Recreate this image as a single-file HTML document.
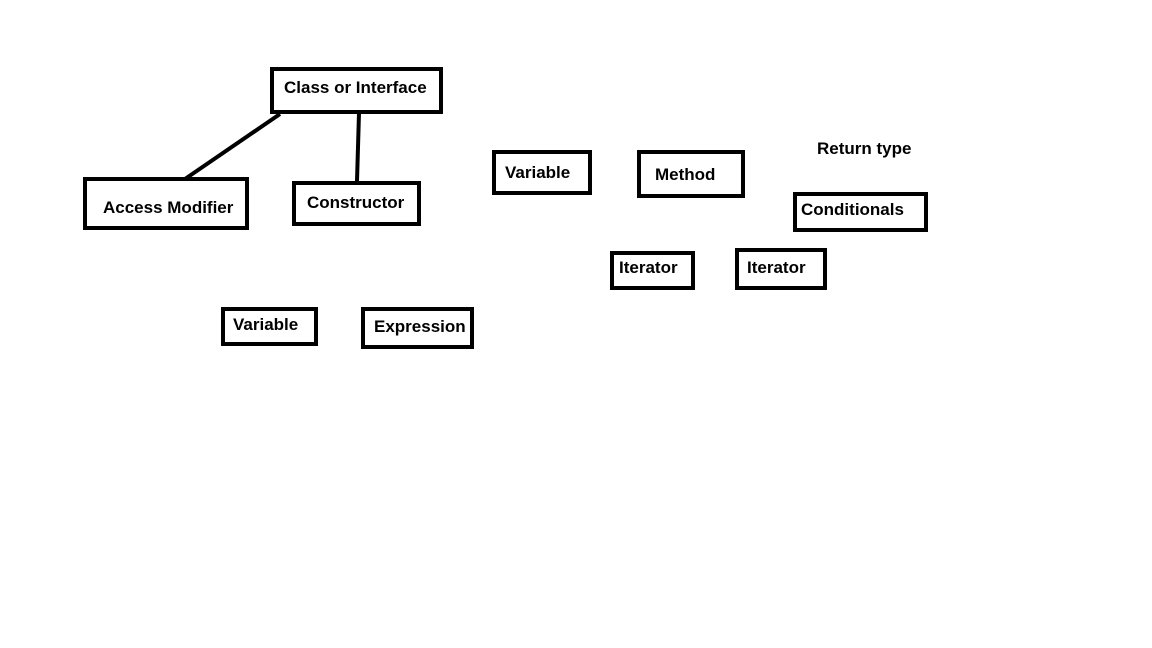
<!DOCTYPE html>
<html><head><style>
body{margin:0;width:1152px;height:648px;background:#fff;position:relative;overflow:hidden;font-family:"Liberation Sans",sans-serif;}
.b{position:absolute;box-sizing:border-box;border:4px solid #000;}
.t{position:absolute;font-weight:bold;font-size:17px;color:#000;white-space:nowrap;line-height:19px;}
</style></head><body>
<svg style="position:absolute;left:0;top:0" width="1152" height="648">
<line x1="280" y1="114" x2="185" y2="179" stroke="#000" stroke-width="4"/>
<line x1="359" y1="113" x2="357" y2="181" stroke="#000" stroke-width="4"/>
</svg>
<div class="b" style="left:270px;top:67px;width:173px;height:47px"></div>
<div class="t" style="left:284px;top:78px">Class or Interface</div>
<div class="b" style="left:83px;top:177px;width:166px;height:53px"></div>
<div class="t" style="left:103px;top:198px">Access Modifier</div>
<div class="b" style="left:292px;top:181px;width:129px;height:45px"></div>
<div class="t" style="left:307px;top:193px">Constructor</div>
<div class="b" style="left:221px;top:307px;width:97px;height:39px"></div>
<div class="t" style="left:233px;top:315px">Variable</div>
<div class="b" style="left:361px;top:307px;width:113px;height:42px"></div>
<div class="t" style="left:374px;top:317px">Expression</div>
<div class="b" style="left:492px;top:150px;width:100px;height:45px"></div>
<div class="t" style="left:505px;top:163px">Variable</div>
<div class="b" style="left:637px;top:150px;width:108px;height:48px"></div>
<div class="t" style="left:655px;top:165px">Method</div>
<div class="t" style="left:817px;top:139px">Return type</div>
<div class="b" style="left:793px;top:192px;width:135px;height:40px"></div>
<div class="t" style="left:801px;top:200px">Conditionals</div>
<div class="b" style="left:610px;top:251px;width:85px;height:39px"></div>
<div class="t" style="left:619px;top:258px">Iterator</div>
<div class="b" style="left:735px;top:248px;width:92px;height:42px"></div>
<div class="t" style="left:747px;top:258px">Iterator</div>
</body></html>
